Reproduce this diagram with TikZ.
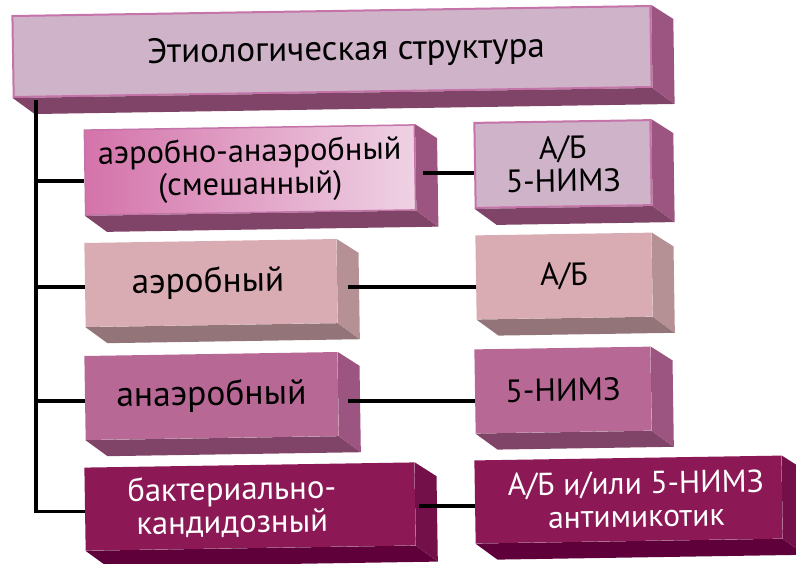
\documentclass[tikz,border=0pt]{standalone}
\usepackage{fontspec}
\setmainfont{PT Sans}
\definecolor{lavF}{HTML}{CFB3C8}
\definecolor{lavS}{HTML}{9C5581}
\definecolor{lavB}{HTML}{7F4467}
\definecolor{lavE}{HTML}{C474A8}
\definecolor{rosF}{HTML}{D9ABB3}
\definecolor{rosS}{HTML}{B59095}
\definecolor{rosB}{HTML}{937479}
\definecolor{magF}{HTML}{B86895}
\definecolor{wineF}{HTML}{8C1856}
\definecolor{wineS}{HTML}{741049}
\definecolor{wineB}{HTML}{5F003A}
\definecolor{gradL}{HTML}{D473AA}
\definecolor{gradM}{HTML}{F6C6CB}
\definecolor{gradR}{HTML}{EFD2E4}
\newcommand\extrude[3]{%
  \fill[#3] (#1.south west) -- (#1.south east) -- ([shift={(22,16)}]#1.south east) -- ([shift={(22,16)}]#1.south west) -- cycle;
  \fill[#2] (#1.north east) -- ([shift={(22,14)}]#1.north east) -- ([shift={(22,16)}]#1.south east) -- (#1.south east) -- cycle;
}
\begin{document}
\begin{tikzpicture}[x=1pt,y=-1pt,
  face/.style={rectangle, inner sep=0pt, rotate=0.9, align=center, font=\fontsize{32}{33}\selectfont},
  conn/.style={line width=3.5pt, black}]
\useasboundingbox (0,0) rectangle (796,563);
% top
\node[face, fill=lavF, draw=lavE, line width=2pt, minimum width=638, minimum height=81, font=\fontsize{35}{36}\selectfont] (top) at (332,51.5) {\hspace*{28pt}Этиологическая структура};
\extrude{top}{lavS}{lavB}
% left column
\node[face, left color=gradL, middle color=gradM, right color=gradR, draw=lavE, line width=1.5pt, minimum width=330, minimum height=85, font=\fontsize{32.4}{33}\selectfont] (b1) at (250,170) {аэробно-анаэробный\\(смешанный)};
\extrude{b1}{lavS}{lavB}
\node[face, fill=rosF, minimum width=252, minimum height=84, font=\fontsize{35.3}{36}\selectfont] (b2) at (211,283) {\hspace*{-6pt}аэробный};
\extrude{b2}{rosS}{rosB}
\node[face, fill=magF, minimum width=253, minimum height=84, font=\fontsize{35.5}{36}\selectfont] (b3) at (211.5,396) {анаэробный};
\extrude{b3}{lavS}{lavB}
\node[face, fill=wineF, text=white, minimum width=330, minimum height=83, font=\fontsize{32.7}{33}\selectfont] (b4) at (250,506.5) {\hspace*{-36pt}бактериально-\\\hspace*{-36pt}кандидозный};
\extrude{b4}{wineS}{wineB}
% right column
\node[face, fill=lavF, draw=lavE, line width=2pt, minimum width=176, minimum height=85] (r1) at (563,164) {А/Б\\5-НИМЗ};
\extrude{r1}{lavS}{lavB}
\node[face, fill=rosF, minimum width=176, minimum height=84] (r2) at (564,276) {А/Б};
\extrude{r2}{rosS}{rosB}
\node[face, fill=magF, minimum width=176, minimum height=84] (r3) at (563,390) {5-НИМЗ};
\extrude{r3}{lavS}{lavB}
\node[face, fill=wineF, text=white, minimum width=307, minimum height=83, font=\fontsize{31.6}{33}\selectfont] (r4) at (628.5,499.5) {\hspace*{15pt}А/Б и/или 5-НИМЗ\\\hspace*{15pt}антимикотик};
\extrude{r4}{wineS}{wineB}
% connectors
\coordinate (tk) at (36,100);
\coordinate (c1) at (0,173);
\coordinate (c2) at (0,287);
\coordinate (c3) at (0,401);
\coordinate (c4) at (0,506);
\draw[conn] (tk) |- ([yshift=-2.5pt]b4.west);
\draw[conn] (tk |- b1.west) ++(0,8.5) -- ([yshift=-8.5pt]b1.west);
\draw[conn] ([yshift=-2pt]b2.west -| tk) -- ([yshift=-2pt]b2.west);
\draw[conn] ([yshift=-3pt]b3.west -| tk) -- ([yshift=-3pt]b3.west);
\draw[conn] ([xshift=7pt]b1.east |- c1) -- (r1.west |- c1);
\draw[conn] ([xshift=11pt]b2.east |- c2) -- (r2.west |- c2);
\draw[conn] ([xshift=10pt]b3.east |- c3) -- (r3.west |- c3);
\draw[conn] ([xshift=4pt]b4.east |- c4) -- (r4.west |- c4);
\end{tikzpicture}
\end{document}
